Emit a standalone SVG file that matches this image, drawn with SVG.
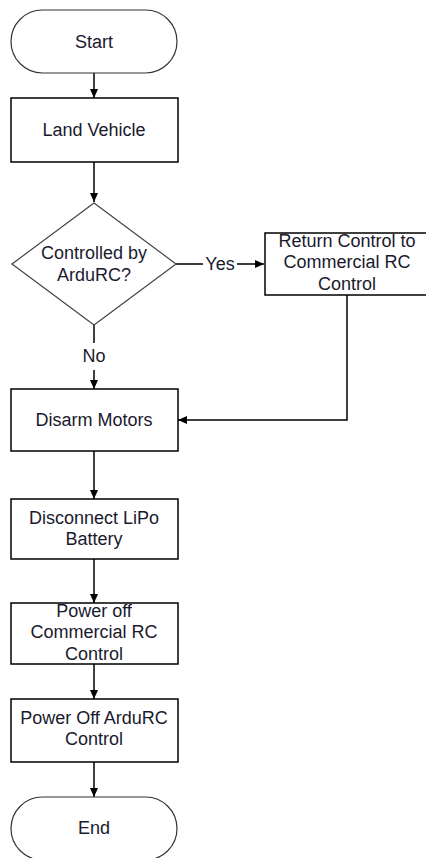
<svg xmlns="http://www.w3.org/2000/svg" width="426" height="858" viewBox="0 0 426 858">
<style>
.box{fill:#fff;stroke:#000;stroke-width:1.5}
.term{fill:#fff;stroke:#333;stroke-width:1.2}
.t{font-family:"Liberation Sans",Arial,sans-serif;font-size:18px;fill:#1a1a2e;text-anchor:middle;dominant-baseline:central}
.c{fill:none;stroke:#000;stroke-width:1.5}
</style>
<defs>
<marker id="ah" markerWidth="10" markerHeight="10" refX="9" refY="5" orient="auto" markerUnits="userSpaceOnUse">
<path d="M0,1 L9,5 L0,9 Z" fill="#000"/>
</marker>
</defs>
<rect width="426" height="858" fill="#fff"/>
<g id="connectors">
<line class="c" x1="94" y1="73" x2="94" y2="98" marker-end="url(#ah)"/>
<line class="c" x1="94" y1="162" x2="94" y2="202" marker-end="url(#ah)"/>
<line class="c" x1="176" y1="264" x2="203" y2="264"/>
<line class="c" x1="237" y1="264" x2="264" y2="264" marker-end="url(#ah)"/>
<line class="c" x1="94" y1="325" x2="94" y2="343"/>
<line class="c" x1="94" y1="370" x2="94" y2="389" marker-end="url(#ah)"/>
<polyline class="c" points="347,295 347,420 178,420" marker-end="url(#ah)"/>
<line class="c" x1="94" y1="451" x2="94" y2="499" marker-end="url(#ah)"/>
<line class="c" x1="94" y1="559" x2="94" y2="603" marker-end="url(#ah)"/>
<line class="c" x1="94" y1="664" x2="94" y2="699" marker-end="url(#ah)"/>
<line class="c" x1="94" y1="762" x2="94" y2="797" marker-end="url(#ah)"/>
<text class="t" x="220" y="264">Yes</text>
<text class="t" x="94" y="356">No</text>
</g>
<g id="start">
<rect class="term" x="11" y="10" width="166" height="63" rx="31.5" ry="31.5"/>
<text class="t" x="94" y="42">Start</text>
</g>
<g id="land">
<rect class="box" x="11" y="98" width="167" height="64"/>
<text class="t" x="94" y="130">Land Vehicle</text>
</g>
<g id="decision">
<polygon class="box" points="94,203 176,264 94,325 12,264" style="stroke:#444;stroke-width:1.2"/>
<text class="t" x="94" y="253">Controlled by</text>
<text class="t" x="94" y="275">ArduRC?</text>
</g>
<g id="return">
<rect class="box" x="265" y="233" width="166" height="62"/>
<text class="t" x="347" y="241">Return Control to</text>
<text class="t" x="347" y="262">Commercial RC</text>
<text class="t" x="347" y="284">Control</text>
</g>
<g id="disarm">
<rect class="box" x="11" y="389" width="167" height="62"/>
<text class="t" x="94" y="420">Disarm Motors</text>
</g>
<g id="disconnect">
<rect class="box" x="11" y="499" width="167" height="60"/>
<text class="t" x="94" y="518">Disconnect LiPo</text>
<text class="t" x="94" y="539">Battery</text>
</g>
<g id="poweroffrc">
<rect class="box" x="11" y="603" width="167" height="61"/>
<text class="t" x="94" y="611">Power off</text>
<text class="t" x="94" y="632">Commercial RC</text>
<text class="t" x="94" y="654">Control</text>
</g>
<g id="poweroffardu">
<rect class="box" x="11" y="699" width="167" height="63"/>
<text class="t" x="94" y="718">Power Off ArduRC</text>
<text class="t" x="94" y="739">Control</text>
</g>
<g id="end">
<rect class="term" x="11" y="797" width="166" height="63" rx="31.5" ry="31.5"/>
<text class="t" x="94" y="828">End</text>
</g>
</svg>
